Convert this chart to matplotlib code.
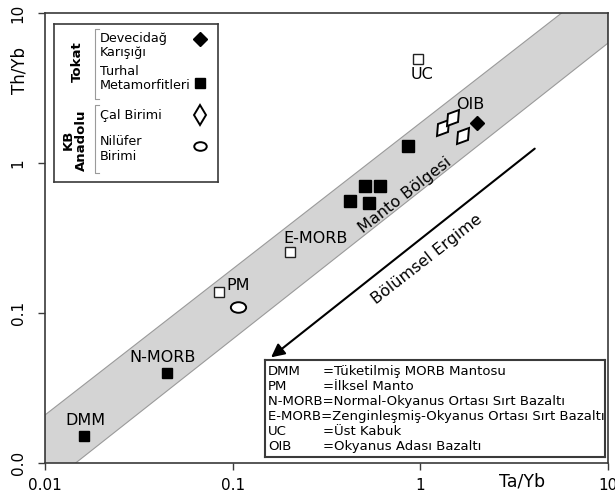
import matplotlib
matplotlib.use("Agg")
from matplotlib import pyplot as plt
from matplotlib.path import Path
from matplotlib.markers import MarkerStyle
from matplotlib.transforms import Affine2D

plt.rcParams['font.family'] = ['DejaVu Sans']

# reference compositions (Ta/Yb, Th/Yb)
ref_names = ['DMM', 'N-MORB', 'PM', 'E-MORB', 'UC']
ref_ta_yb = [0.0161, 0.0447, 0.0845, 0.202, 0.97]
ref_th_yb = [0.0151, 0.0398, 0.138, 0.255, 4.94]
ref_filled = [True, True, False, False, False]
# label offsets in points (dx, dy) and horizontal alignment
ref_label_pos = [(1, 11, 'center'), (-3, 11, 'center'), (5, 5, 'left'),
                 (-5, 10, 'left'), (3, -11, 'center')]

# Tokat
turhal_ta_yb = [0.86, 0.51, 0.61, 0.42, 0.53]
turhal_th_yb = [1.30, 0.70, 0.70, 0.56, 0.54]
devecidag_ta_yb = [2.0]
devecidag_th_yb = [1.85]

# KB Anadolu
cal_ta_yb = [1.32, 1.49, 1.69]
cal_th_yb = [1.71, 2.0, 1.51]
nilufer_ta_yb = [0.107]
nilufer_th_yb = [0.11]

# mantle array edges
band_x = [0.01, 10]
band_lo = [0.0069, 6.3]
band_hi = [0.0209, 17.4]

oib_label = (1.84, 2.44)

abbrev = ['DMM', 'PM', 'N-MORB', 'E-MORB', 'UC', 'OIB']
meaning = ['Tüketilmiş MORB Mantosu', 'İlksel Manto', 'Normal-Okyanus Ortası Sırt Bazaltı',
           'Zenginleşmiş-Okyanus Ortası Sırt Bazaltı', 'Üst Kabuk', 'Okyanus Adası Bazaltı']

W, H = 615, 495
ellipse = MarkerStyle(Path.unit_circle().transformed(Affine2D().scale(1.45, 1.0)))
tilted = MarkerStyle('d', transform=Affine2D().rotate_deg(-35))
spine_c = '#3a3a3a'

fig = plt.figure(figsize=(W / 100, H / 100), dpi=100)
ax = fig.add_axes([45 / W, 1 - 463 / H, (608 - 45) / W, (463 - 13) / H])
ax.set_xscale('log')
ax.set_yscale('log')
ax.set_xlim(0.01, 10)
ax.set_ylim(0.01, 10)

ax.fill_between(band_x, band_lo, band_hi, color='#d4d4d4', edgecolor='#9a9a9a', lw=0.8, zorder=1)

for name, x, y, filled, (dx, dy, ha) in zip(ref_names, ref_ta_yb, ref_th_yb, ref_filled, ref_label_pos):
    if filled:
        ax.plot(x, y, 's', ms=7.5, color='black', zorder=3)
    else:
        ax.plot(x, y, 's', ms=6.5, mfc='white', mec='#222222', mew=1, zorder=3)
    ax.annotate(name, (x, y), xytext=(dx, dy), textcoords='offset points',
                ha=ha, va='center', fontsize=11.5, zorder=4)
ax.text(*oib_label, 'OIB', fontsize=11.5, ha='center', va='center', zorder=4)

ax.plot(turhal_ta_yb, turhal_th_yb, 's', ms=8.5, color='black', ls='none', zorder=3)
ax.plot(devecidag_ta_yb, devecidag_th_yb, 'D', ms=7.5, color='black', ls='none', zorder=3)
ax.plot(cal_ta_yb, cal_th_yb, marker=tilted, ms=10.5, mfc='white', mec='black', mew=1.4, ls='none', zorder=3)
ax.plot(nilufer_ta_yb, nilufer_th_yb, marker=ellipse, ms=11, mfc='white', mec='black', mew=1.4, ls='none', zorder=3)

ax.text(0.83, 0.61, 'Manto Bölgesi', rotation=38, fontsize=11.5, ha='center', va='center', zorder=4)
ax.annotate('', xy=(0.156, 0.0493), xytext=(4.18, 1.28),
            arrowprops=dict(arrowstyle='-|>', color='black', lw=1.5, mutation_scale=20))
ax.text(1.08, 0.229, 'Bölümsel Ergime', rotation=38, fontsize=11.5, ha='center', va='center')

ax.set_xticks([0.01, 0.1, 1, 10])
ax.set_xticklabels(['0.01', '0.1', '1', '10'])
ax.set_yticks([0.01, 0.1, 1, 10])
ax.set_yticklabels(['0.0', '0.1', '1', '10'], rotation=90, va='center')
ax.minorticks_off()
ax.tick_params(axis='both', direction='out', length=5, width=1, color=spine_c, labelsize=11)
ax.tick_params(axis='x', pad=6)
ax.tick_params(axis='y', pad=9)
for s in ax.spines.values():
    s.set_color(spine_c)
    s.set_linewidth(1.2)

fig.text(20 / W, 1 - 70 / H, 'Th/Yb', rotation=90, ha='center', va='center', fontsize=12)
fig.text(522 / W, 1 - 482 / H, 'Ta/Yb', ha='center', va='center', fontsize=12.5)

# symbol legend, drawn in pixel units
leg = fig.add_axes([54 / W, 1 - 182 / H, (218 - 54) / W, (182 - 24) / H])
leg.set_xlim(54, 218)
leg.set_ylim(182, 24)
leg.set_xticks([])
leg.set_yticks([])
for s in leg.spines.values():
    s.set_color(spine_c)
    s.set_linewidth(1.2)

leg.text(77, 62, 'Tokat', rotation=90, ha='center', va='center', fontsize=9.5, fontweight='bold')
leg.text(75, 140, 'KB\nAnadolu', rotation=90, ha='center', va='center', fontsize=9.5,
         fontweight='bold', multialignment='center', linespacing=1.0)
for y0, y1 in [(29, 99), (105, 173)]:
    leg.plot([99, 95, 95, 99], [y0, y0, y1, y1], color='#9a9a9a', lw=0.8)

leg_text = [('Devecidağ', 39), ('Karışığı', 53), ('Turhal', 72), ('Metamorfitleri', 86),
            ('Çal Birimi', 116), ('Nilüfer', 142), ('Birimi', 157)]
for t, y in leg_text:
    leg.text(100, y, t, ha='left', va='center', fontsize=9.2)
leg.plot(200, 39, 'D', ms=7, color='black')
leg.plot(200, 83, 's', ms=7, color='black')
leg.plot(200, 115, marker='d', ms=10, mfc='white', mec='black', mew=1.4)
leg.plot(200, 146, marker=ellipse, ms=9, mfc='white', mec='black', mew=1.4)

# abbreviation box
box = fig.add_axes([265 / W, 1 - 457 / H, (605 - 265) / W, (457 - 360) / H])
box.set_xlim(265, 605)
box.set_ylim(457, 360)
box.set_xticks([])
box.set_yticks([])
for s in box.spines.values():
    s.set_color(spine_c)
    s.set_linewidth(1.5)
for i, (a, m) in enumerate(zip(abbrev, meaning)):
    y = 372 + i * 15
    if a in ('N-MORB', 'E-MORB'):
        box.text(268, y, a + '=' + m, ha='left', va='center', fontsize=9.5)
    else:
        box.text(268, y, a, ha='left', va='center', fontsize=9.5)
        box.text(323, y, '=' + m, ha='left', va='center', fontsize=9.5)

fig.savefig('out.png', dpi=100)
